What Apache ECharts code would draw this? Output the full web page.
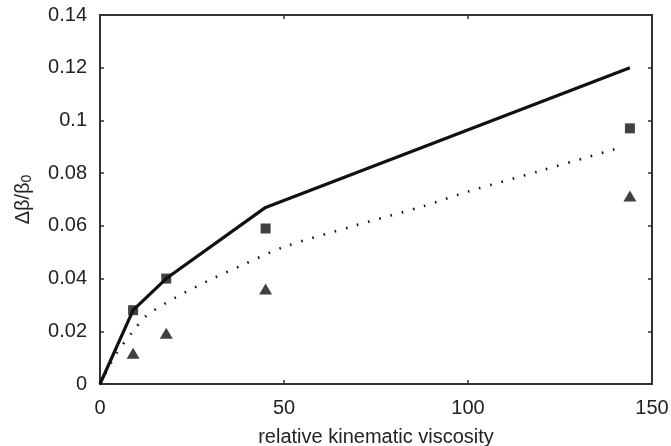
<!DOCTYPE html>
<html>
<head>
<meta charset="utf-8">
<script src="https://cdn.jsdelivr.net/npm/echarts@6/dist/echarts.min.js"></script>
<style>html,body{margin:0;padding:0;background:#fff}#c{width:671px;height:446px}</style>
</head>
<body>
<div id="c"></div>
<script>
var xTicks = [0, 50, 100, 150];
var yTicks = [0, 0.02, 0.04, 0.06, 0.08, 0.1, 0.12, 0.14];
var solidX = [0, 9, 18, 45, 144];
var solidY = [0, 0.028, 0.040, 0.067, 0.120];
var dottedX = [0, 4.5, 9, 12.7, 20.8, 29.9, 38.5, 50, 69, 88, 100, 120, 141.3];
var dottedY = [0, 0.0116, 0.020, 0.026, 0.033, 0.0395, 0.045, 0.052, 0.060, 0.0675, 0.073, 0.081, 0.0897];
var squareX = [9, 18, 45, 144];
var squareY = [0.028, 0.040, 0.059, 0.097];
var triX = [9, 18, 45, 144];
var triY = [0.0117, 0.0193, 0.036, 0.0713];

function pairs(xs, ys) { return xs.map(function (x, i) { return [x, ys[i]]; }); }

var font = 'Liberation Sans, Arial, sans-serif';
var ink = '#222';
var chart = echarts.init(document.getElementById('c'), null, {renderer: 'canvas'});
var axisCommon = {
  axisLine: {show: true, onZero: false, lineStyle: {color: '#333', width: 2}},
  axisTick: {show: true, inside: true, length: 4, lineStyle: {color: '#333', width: 1.5}},
  splitLine: {show: false}
};
chart.setOption({
  animation: false,
  backgroundColor: '#fff',
  grid: {left: 100, right: 19, top: 15, bottom: 62, containLabel: false, outerBoundsMode: 'none'},
  xAxis: [
    Object.assign({
      type: 'value', position: 'bottom', min: 0, max: 150, interval: 50,
      axisLabel: {color: ink, fontSize: 20, fontFamily: font, margin: 14},
      name: 'relative kinematic viscosity', nameLocation: 'middle', nameGap: 43,
      nameTextStyle: {color: ink, fontSize: 20, fontFamily: font}
    }, axisCommon),
    Object.assign({
      type: 'value', position: 'top', min: 0, max: 150, interval: 50,
      axisLabel: {show: false}
    }, axisCommon)
  ],
  yAxis: [
    Object.assign({
      type: 'value', position: 'left', min: 0, max: 0.14, interval: 0.02,
      axisLabel: {color: ink, fontSize: 20, fontFamily: font, margin: 13,
        formatter: function (v) { return String(parseFloat(v.toFixed(2))); }},
      name: '{a|Δβ/β}{s|0}', nameLocation: 'middle', nameGap: 66, nameRotate: 90,
      nameTextStyle: {color: ink, fontFamily: font,
        rich: {a: {fontSize: 20, fontFamily: font, color: ink},
               s: {fontSize: 14, fontFamily: font, color: ink, verticalAlign: 'bottom', padding: [8, 0, 0, 0]}}}
    }, axisCommon),
    Object.assign({
      type: 'value', position: 'right', min: 0, max: 0.14, interval: 0.02,
      axisLabel: {show: false}
    }, axisCommon)
  ],
  series: [
    {type: 'line', data: pairs(solidX, solidY), symbol: 'none',
     lineStyle: {color: '#111', width: 3.2}, z: 3},
    {type: 'line', data: pairs(dottedX, dottedY), symbol: 'none', smooth: 0.3,
     lineStyle: {color: '#111', width: 2.6, type: [1.6, 10]}, z: 2},
    {type: 'scatter', data: pairs(squareX, squareY), symbol: 'rect', symbolSize: 10,
     itemStyle: {color: '#111'}, z: 4},
    {type: 'scatter', data: pairs(triX, triY), symbol: 'triangle', symbolSize: [13, 11],
     itemStyle: {color: '#111'}, z: 4}
  ]
});
</script>
</body>
</html>
